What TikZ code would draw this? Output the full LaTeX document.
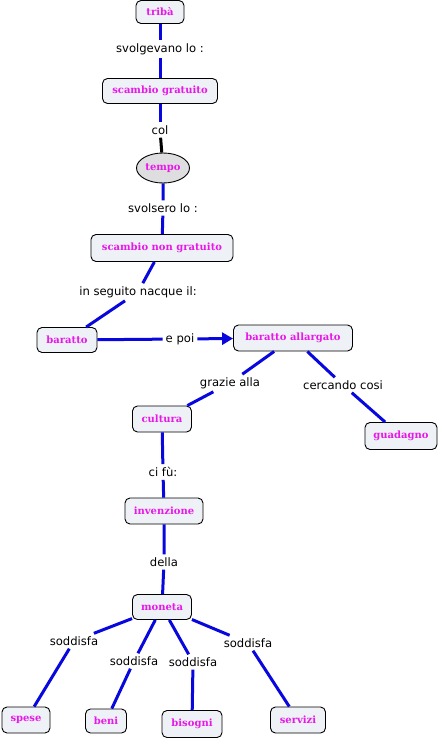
\documentclass[tikz,border=0pt]{standalone}
\usepackage{fontspec}
\setmainfont{DejaVu Serif}
\newfontfamily\phrasefont{DejaVu Sans}
\usepackage{tikz}
\usetikzlibrary{arrows.meta, positioning, shapes.geometric}
\usepackage{xcolor}
\definecolor{linkblue}{RGB}{8,8,222}
\definecolor{conceptpink}{RGB}{232,24,232}
\definecolor{boxfill}{RGB}{238,242,246}
\definecolor{ovalfill}{RGB}{222,222,224}

\tikzset{
  concept/.style={draw=black, rounded corners=5pt, fill=boxfill, line width=0.9pt,
    text=conceptpink, font=\bfseries\fontsize{10}{12}\selectfont, inner sep=2pt},
  phrase/.style={font=\phrasefont\fontsize{11.6}{13}\selectfont, inner sep=3pt},
  link/.style={linkblue, line width=3pt},
}

\begin{document}
\begin{tikzpicture}[x=1pt, y=-1pt]
  \useasboundingbox[fill=white] (0,0) rectangle (441,741);
  % Concepts
  \node[concept, minimum width=48, minimum height=23] (triba) at (160,12) {tribà};
  \node[concept, minimum width=115, minimum height=25] (gratuito) at (160,91) {scambio gratuito};
  \node[draw=black, ellipse, fill=ovalfill, line width=0.9pt, text=conceptpink,
    font=\bfseries\fontsize{10}{12}\selectfont, minimum width=53, minimum height=30,
    inner sep=1pt] (tempo) at (163,168) {tempo};
  \node[concept, minimum width=142, minimum height=27] (nongratuito) at (162,248) {scambio non gratuito};
  \node[concept, minimum width=60, minimum height=25] (baratto) at (67,340) {baratto};
  \node[concept, minimum width=119, minimum height=26] (allargato) at (293,338) {baratto allargato};
  \node[concept, minimum width=59, minimum height=26] (cultura) at (162,419) {cultura};
  \node[concept, minimum width=72, minimum height=27] (guadagno) at (401,436) {guadagno};
  \node[concept, minimum width=78, minimum height=26] (invenzione) at (164,511) {invenzione};
  \node[concept, minimum width=59, minimum height=25] (moneta) at (162,607) {moneta};
  \node[concept, minimum width=48, minimum height=26] (spese) at (26,720) {spese};
  \node[concept, minimum width=41, minimum height=24] (beni) at (106,721) {beni};
  \node[concept, minimum width=60, minimum height=27] (bisogni) at (192,724) {bisogni};
  \node[concept, minimum width=55, minimum height=26] (servizi) at (298,720) {servizi};
  % Linking phrases
  \node[phrase] (svolgevano) at (160,49) {svolgevano lo :};
  \node[phrase] (col) at (160,130) {col};
  \node[phrase] (svolsero) at (163,208) {svolsero lo :};
  \node[phrase] (nacque) at (138,292) {in seguito nacque il:};
  \node[phrase] (epoi) at (180,339) {e poi};
  \node[phrase] (grazie) at (230,383) {grazie alla};
  \node[phrase] (cercando) at (343,385) {cercando cosi};
  \node[phrase] (cifu) at (163,472) {ci fù:};
  \node[phrase] (della) at (164,562) {della};
  \node[phrase] (sodA) at (74,641) {soddisfa};
  \node[phrase] (sodB) at (134,661) {soddisfa};
  \node[phrase] (sodC) at (193,662) {soddisfa};
  \node[phrase] (sodD) at (248,643) {soddisfa};
  % Links
  \draw[link] (triba) -- (svolgevano) -- (gratuito);
  \draw[link] (gratuito) -- (col);
  \draw[black, line width=3pt] (col) -- (tempo);
  \draw[link] (tempo) -- (svolsero) -- (nongratuito);
  \draw[link] (nongratuito) -- (nacque) -- (baratto);
  \draw[link] (baratto) -- (epoi);
  \draw[link, -{Triangle[length=11pt, width=12pt]}] (epoi) -- (allargato);
  \draw[link] (allargato) -- (grazie) -- (cultura);
  \draw[link] (allargato) -- (cercando) -- (guadagno);
  \draw[link] (cultura) -- (cifu) -- (invenzione);
  \draw[link] (invenzione) -- (della) -- (moneta);
  \foreach \s/\t in {sodA/spese, sodB/beni, sodC/bisogni, sodD/servizi}
    \draw[link] (moneta) -- (\s) -- (\t);
\end{tikzpicture}
\end{document}
